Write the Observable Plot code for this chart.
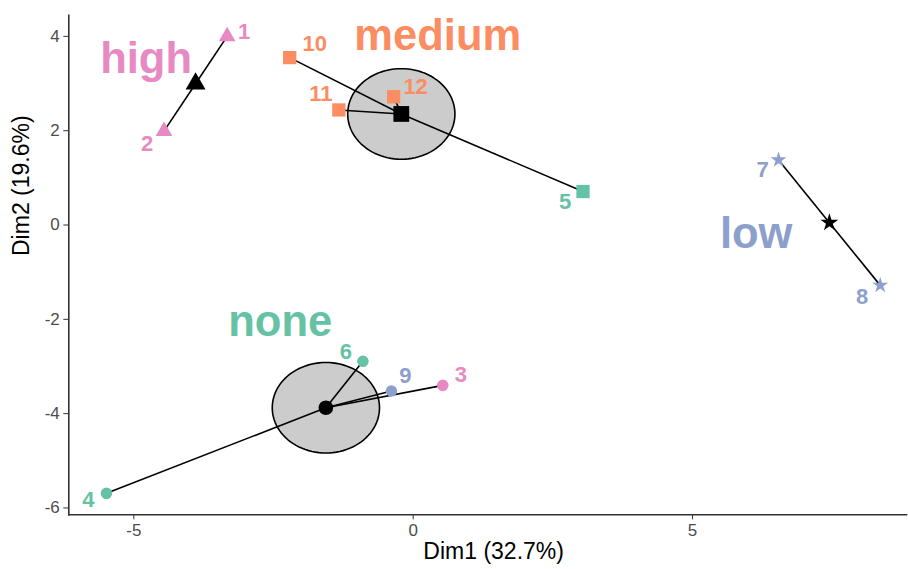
<!DOCTYPE html>
<html>
<head>
<meta charset="utf-8">
<script src="https://cdn.jsdelivr.net/npm/d3@7"></script>
<script src="https://cdn.jsdelivr.net/npm/@observablehq/plot@0.6"></script>
<style>
  html, body { margin: 0; padding: 0; background: #fff; }
  #chart svg { display: block; }
</style>
</head>
<body>
<div id="chart"></div>
<script>
// ---- data ----
const pointIds   = ["1","2","3","4","5","6","7","8","9","10","11","12"];
const dim1       = [-3.33, -4.46, 0.53, -5.49, 3.04, -0.90, 6.54, 8.36, -0.39, -2.21, -1.33, -0.35];
const dim2       = [ 4.00,  1.99, -3.40, -5.69, 0.71, -2.89, 1.38, -1.28, -3.52, 3.55, 2.44, 2.72];
const trueClass  = ["high","high","high","none","none","none","low","low","low","medium","medium","medium"];
const clusterOf  = ["high","high","none","none","medium","none","low","low","none","medium","medium","medium"];

const clusterNames  = ["high", "medium", "low", "none"];
const clusterColors = ["#E78AC3", "#FC8D62", "#8DA0CB", "#66C2A5"];
const clusterShapes = ["triangle", "square", "star", "circle"];
const clusterLabelX = [-4.78, 0.44, 6.14, -2.38];
const clusterLabelY = [ 3.52, 4.00, -0.19, -2.06];
const ellipseRadius = 0.96;

const xTicks = [-5, 0, 5];
const yTicks = [-6, -4, -2, 0, 2, 4];
const xTitle = "Dim1 (32.7%)";
const yTitle = "Dim2 (19.6%)";

// ---- derived tables ----
const points = pointIds.map((id, i) => ({id, x: dim1[i], y: dim2[i], cls: trueClass[i], cluster: clusterOf[i]}));
const centroids = clusterNames.map(c => {
  const members = points.filter(p => p.cluster === c);
  return {cluster: c, n: members.length, x: d3.mean(members, p => p.x), y: d3.mean(members, p => p.y)};
});
const centroidOf = Object.fromEntries(centroids.map(c => [c.cluster, c]));
const links = points.map(p => ({x1: centroidOf[p.cluster].x, y1: centroidOf[p.cluster].y, x2: p.x, y2: p.y}));
const ellipses = [];
centroids.filter(c => c.n > 2).forEach(c => {
  for (let k = 0; k < 96; k++) {
    const a = (k / 96) * 2 * Math.PI;
    ellipses.push({cluster: c.cluster, x: c.x + ellipseRadius * Math.cos(a), y: c.y + ellipseRadius * Math.sin(a)});
  }
});
const groupLabels = clusterNames.map((c, i) => ({cluster: c, x: clusterLabelX[i], y: clusterLabelY[i]}));

// ---- styling ----
const font = "'Liberation Sans', Arial, sans-serif";
const pointR    = {triangle: 6.2, square: 7.5, star: 5.0, circle: 5.8};
const centroidR = {triangle: 7.4, square: 8.9, star: 5.6, circle: 7.3};
const labelNudge = {
  "1": [17, -4], "2": [-17, 13], "3": [18, -10], "4": [-18, 7],
  "5": [-18, 10], "6": [-17, -9], "7": [-16, 10], "8": [-18, 12],
  "9": [14, -15], "10": [25, -14], "11": [-18, -16], "12": [22, -10]
};
const shapeOf = Object.fromEntries(clusterNames.map((c, i) => [c, clusterShapes[i]]));
const clsFill = {value: "cls", scale: "color"};
const fmt = d => String(d);

const marks = [
  Plot.line(ellipses, {x: "x", y: "y", z: "cluster", curve: "linear-closed", fill: "#CCCCCC", stroke: "black", strokeWidth: 1.6}),
  Plot.link(links, {x1: "x1", y1: "y1", x2: "x2", y2: "y2", stroke: "black", strokeWidth: 1.6}),
];
clusterNames.forEach(c => {
  marks.push(Plot.dot(points.filter(p => p.cluster === c), {x: "x", y: "y", fill: clsFill, symbol: () => shapeOf[c], r: pointR[shapeOf[c]], stroke: "none"}));
});
clusterNames.forEach(c => {
  marks.push(Plot.dot(centroids.filter(d => d.cluster === c), {x: "x", y: "y", fill: "black", symbol: () => shapeOf[c], r: centroidR[shapeOf[c]], stroke: "none"}));
});
points.forEach(p => {
  marks.push(Plot.text([p], {x: "x", y: "y", text: "id", fill: clsFill, fontSize: 22, fontWeight: "bold", dx: labelNudge[p.id][0], dy: labelNudge[p.id][1]}));
});
marks.push(Plot.text(groupLabels, {x: "x", y: "y", text: "cluster", fill: {value: "cluster", scale: "color"}, fontSize: 43.5, fontWeight: "bold"}));

marks.push(
  Plot.axisX({ticks: xTicks, tickFormat: fmt, tickSize: 5, tickPadding: 4, fontSize: 17, color: "#4D4D4D", stroke: "#333", label: null}),
  Plot.axisY({ticks: yTicks, tickFormat: fmt, tickSize: 5, tickPadding: 4, fontSize: 17, color: "#4D4D4D", stroke: "#333", label: null}),
  Plot.frame({anchor: "left", stroke: "#333", strokeWidth: 1.6}),
  Plot.frame({anchor: "bottom", stroke: "#333", strokeWidth: 1.6}),
  Plot.text([xTitle], {frameAnchor: "bottom", dx: 6, dy: 44, fontSize: 23, fill: "black"}),
  Plot.text([yTitle], {frameAnchor: "left", rotate: -90, dx: -47, dy: -9, fontSize: 23, fill: "black"})
);

const chart = Plot.plot({
  width: 908,
  height: 569,
  marginLeft: 68.3,
  marginRight: 2,
  marginTop: 14.7,
  marginBottom: 54.7,
  style: {fontFamily: font, background: "#fff"},
  x: {domain: [-6.164, 8.83]},
  y: {domain: [-6.145, 4.449]},
  color: {domain: clusterNames, range: clusterColors},
  marks
});
document.getElementById("chart").appendChild(chart);
</script>
</body>
</html>
